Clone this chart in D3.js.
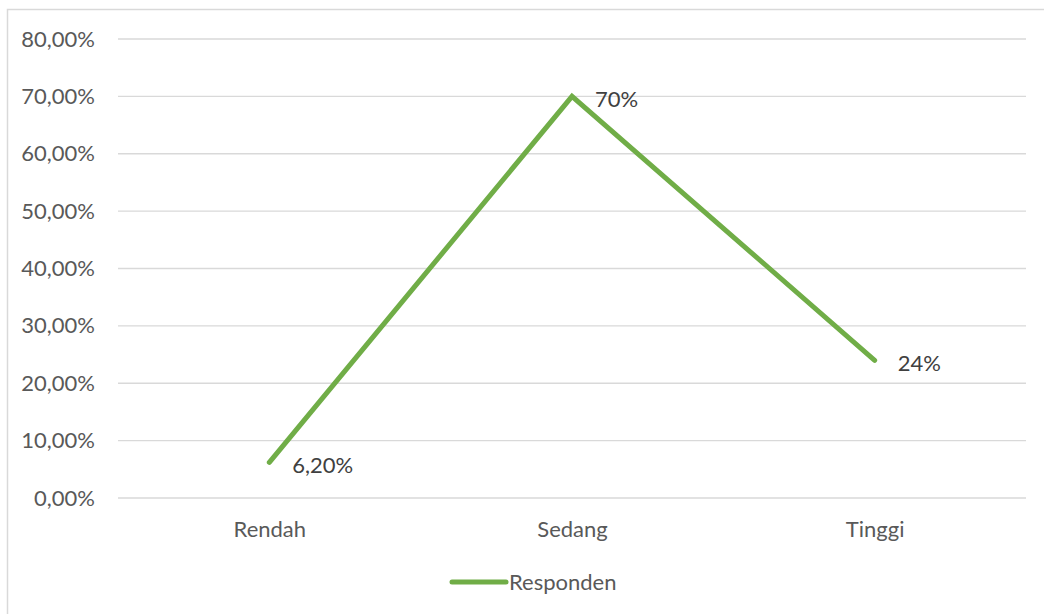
<!DOCTYPE html>
<html>
<head>
<meta charset="utf-8">
<script src="https://cdn.jsdelivr.net/npm/d3@7"></script>
<style>
    body { margin: 0; background: #fff; }
    svg text { font-family: Lato, "Open Sans", sans-serif; }
</style>
</head>
<body>
<div id="chart"></div>
<script>
// data
const categories = ["Rendah", "Sedang", "Tinggi"];
const values = [0.062, 0.70, 0.24];
const valueLabels = ["6,20%", "70%", "24%"];
const yTicks = [0, 0.1, 0.2, 0.3, 0.4, 0.5, 0.6, 0.7, 0.8];
const seriesName = "Responden";

const width = 1044, height = 614;
const plot = { left: 118, right: 1026, top: 39, bottom: 498 };
const fontSize = "22px";

const svg = d3.select("#chart").append("svg")
    .attr("width", width)
    .attr("height", height);

// chart border
svg.append("rect")
    .attr("x", 7.5).attr("y", 9.5)
    .attr("width", 1100).attr("height", 700)
    .attr("fill", "none")
    .attr("stroke", "#d9d9d9")
    .attr("stroke-width", 1.5);

const x = d3.scalePoint()
    .domain(categories)
    .range([plot.left, plot.right])
    .padding(0.5);

const y = d3.scaleLinear()
    .domain([0, 0.8])
    .range([plot.bottom, plot.top]);

const fmt = d => d3.format(".2f")(d * 100).replace(".", ",") + "%";

// gridlines
svg.append("g")
    .selectAll("line")
    .data(yTicks)
    .join("line")
    .attr("x1", plot.left).attr("x2", plot.right)
    .attr("y1", d => y(d)).attr("y2", d => y(d))
    .attr("stroke", "#d9d9d9")
    .attr("stroke-width", 1.3);

// y axis labels
const yAxis = svg.append("g")
    .attr("transform", `translate(${plot.left},0)`)
    .call(d3.axisLeft(y).tickValues(yTicks).tickFormat(fmt).tickSize(0).tickPadding(23));
yAxis.select(".domain").remove();
yAxis.selectAll("text")
    .attr("fill", "#595959")
    .style("font-size", fontSize);

// x axis labels
const xAxis = svg.append("g")
    .attr("transform", `translate(0,${plot.bottom})`)
    .call(d3.axisBottom(x).tickSize(0).tickPadding(23));
xAxis.select(".domain").remove();
xAxis.selectAll("text")
    .attr("fill", "#595959")
    .style("font-size", fontSize);

// line
const line = d3.line()
    .x((d, i) => x(categories[i]))
    .y(d => y(d));

svg.append("path")
    .datum(values)
    .attr("d", line)
    .attr("fill", "none")
    .attr("stroke", "#70ad47")
    .attr("stroke-width", 5)
    .attr("stroke-linecap", "round")
    .attr("stroke-linejoin", "miter");

// data labels
svg.append("g")
    .selectAll("text")
    .data(values)
    .join("text")
    .attr("x", (d, i) => x(categories[i]) + 23)
    .attr("y", d => y(d) + 3)
    .attr("dy", "0.35em")
    .attr("fill", "#404040")
    .style("font-size", fontSize)
    .text((d, i) => valueLabels[i]);

// legend
const legend = svg.append("g").attr("transform", "translate(452,582)");
legend.append("line")
    .attr("x1", 0).attr("x2", 54)
    .attr("stroke", "#70ad47")
    .attr("stroke-width", 5)
    .attr("stroke-linecap", "round");
legend.append("text")
    .attr("x", 57)
    .attr("dy", "0.35em")
    .attr("fill", "#595959")
    .style("font-size", fontSize)
    .text(seriesName);
</script>
</body>
</html>
